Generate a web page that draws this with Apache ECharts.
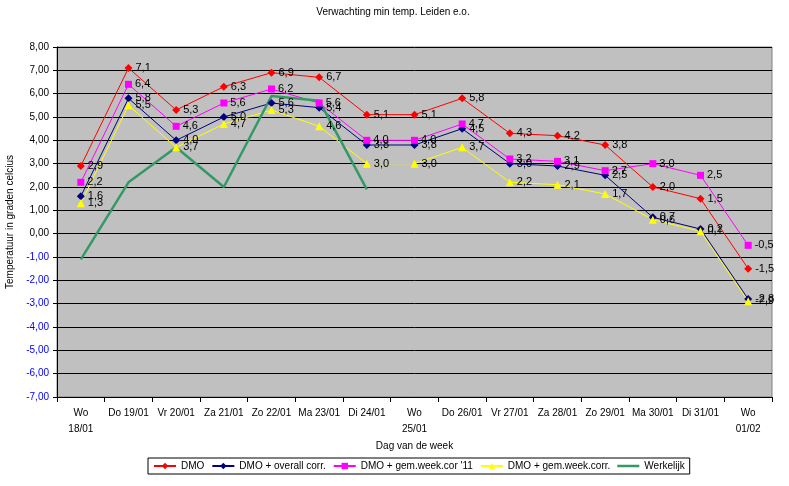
<!DOCTYPE html>
<html>
<head>
<meta charset="utf-8">
<script src="https://cdn.jsdelivr.net/npm/echarts@6/dist/echarts.min.js"></script>
<style>
  html, body { margin: 0; padding: 0; background: #fff; }
  #chart { width: 789px; height: 486px; }
</style>
</head>
<body>
<div id="chart"></div>
<script>
// days of the forecast
let days = ['Wo\n18/01', 'Do 19/01', 'Vr 20/01', 'Za 21/01', 'Zo 22/01', 'Ma 23/01', 'Di 24/01',
    'Wo\n25/01', 'Do 26/01', 'Vr 27/01', 'Za 28/01', 'Zo 29/01', 'Ma 30/01', 'Di 31/01', 'Wo\n01/02'];

let dmo = [2.9, 7.1, 5.3, 6.3, 6.9, 6.7, 5.1, 5.1, 5.8, 4.3, 4.2, 3.8, 2.0, 1.5, -1.5];
let dmoOverall = [1.6, 5.8, 4.0, 5.0, 5.6, 5.4, 3.8, 3.8, 4.5, 3.0, 2.9, 2.5, 0.7, 0.2, -2.8];
let dmoWeek11 = [2.2, 6.4, 4.6, 5.6, 6.2, 5.6, 4.0, 4.0, 4.7, 3.2, 3.1, 2.7, 3.0, 2.5, -0.5];
let dmoWeek = [1.3, 5.5, 3.7, 4.7, 5.3, 4.6, 3.0, 3.0, 3.7, 2.2, 2.1, 1.7, 0.6, 0.1, -2.9];
let werkelijk = [-1.1, 2.2, 3.7, 2.0, 5.9, 5.7, 1.9, null, null, null, null, null, null, null, null];

let font = 'Liberation Sans, Arial, sans-serif';

function comma(v, d)
{
    return v.toFixed(d).replace('.', ',');
}

function fcSeries(name, data, color, symbol, size)
{
    return {
        name: name,
        type: 'line',
        data: data,
        symbol: symbol,
        symbolSize: size,
        color: color,
        lineStyle: {width: 1, color: color},
        itemStyle: {color: color},
        animation: false,
        label: {
            show: true,
            position: 'right',
            distance: 3,
            fontFamily: font,
            fontSize: 11,
            color: '#000',
            formatter: function (p)
            {
                return comma(p.value, 1);
            }
        }
    };
}

let myChart = echarts.init(document.getElementById('chart'));

let option = {
    backgroundColor: '#fff',
    title: {
        text: 'Verwachting min temp. Leiden e.o.',
        left: 388,
        top: 2,
        textAlign: 'center',
        textStyle: {fontFamily: font, fontSize: 10, fontWeight: 'normal', color: '#000'}
    },
    legend: {
        left: 148,
        top: 458,
        padding: [3, 5, 3, 5],
        itemGap: 7,
        itemWidth: 22,
        itemHeight: 8,
        borderColor: '#000',
        borderWidth: 1,
        borderRadius: 0,
        textStyle: {fontFamily: font, fontSize: 10, color: '#000'},
        data: ['DMO', 'DMO + overall corr.', "DMO + gem.week.cor '11", 'DMO + gem.week.corr.',
            {name: 'Werkelijk', icon: 'path://M0,0 L22,0 L22,2.5 L0,2.5 Z'}]
    },
    grid: {
        left: 57,
        right: 17,
        top: 47,
        bottom: 89,
        outerBoundsMode: 'none',
        show: true,
        backgroundColor: '#c0c0c0',
        borderColor: '#808080',
        borderWidth: 1
    },
    xAxis: {
        type: 'category',
        data: days,
        boundaryGap: true,
        name: 'Dag van de week',
        nameLocation: 'middle',
        nameGap: 44,
        nameMoveOverlap: false,
        nameTextStyle: {fontFamily: font, fontSize: 10, color: '#000'},
        axisLine: {onZero: false, lineStyle: {color: '#000', width: 1}},
        axisTick: {show: true, length: 5, lineStyle: {color: '#000'}},
        axisLabel: {
            fontFamily: font,
            fontSize: 10,
            color: '#000',
            margin: 8,
            lineHeight: 16,
            interval: 0
        },
        splitLine: {show: false}
    },
    yAxis: {
        type: 'value',
        min: -7,
        max: 8,
        interval: 1,
        name: 'Temperatuur in graden celcius',
        nameLocation: 'middle',
        nameGap: 42,
        nameTextStyle: {fontFamily: font, fontSize: 10, color: '#000'},
        axisLine: {show: true, lineStyle: {color: '#000', width: 1}},
        axisTick: {show: true, length: 4, lineStyle: {color: '#000'}},
        axisLabel: {
            fontFamily: font,
            fontSize: 10,
            margin: 8,
            formatter: function (v)
            {
                return comma(v, 2);
            },
            color: function (v)
            {
                return Number(v) < 0 ? '#0000ff' : '#000';
            }
        },
        splitLine: {show: true, lineStyle: {color: '#000', width: 1}}
    },
    series: [
        fcSeries('DMO', dmo, '#ff0000', 'diamond', 8),
        fcSeries('DMO + overall corr.', dmoOverall, '#000080', 'diamond', 8),
        fcSeries("DMO + gem.week.cor '11", dmoWeek11, '#ff00ff', 'rect', 7),
        fcSeries('DMO + gem.week.corr.', dmoWeek, '#ffff00', 'triangle', 8),
        {
            name: 'Werkelijk',
            type: 'line',
            data: werkelijk,
            symbol: 'none',
            color: '#339966',
            lineStyle: {width: 2.5, color: '#339966'},
            animation: false
        }
    ]
};

myChart.setOption(option);
</script>
</body>
</html>
